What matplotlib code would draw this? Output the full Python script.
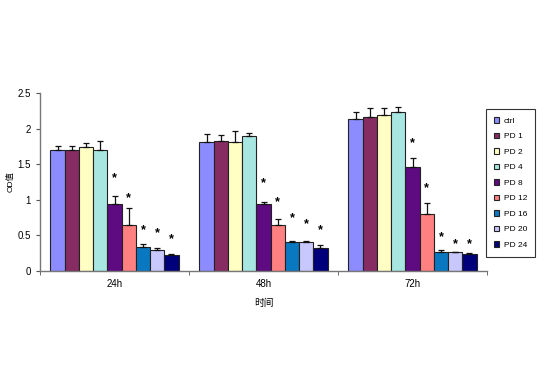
import matplotlib
matplotlib.use("Agg")
import matplotlib.pyplot as plt
import numpy as np
from matplotlib.ticker import FuncFormatter

plt.rcParams['font.family'] = ['Liberation Sans', 'Noto Sans CJK SC', 'DejaVu Sans']

categories = ["24h", "48h", "72h"]
series = ["ctrl", "PD 1", "PD 2", "PD 4", "PD 8", "PD 12", "PD 16", "PD 20", "PD 24"]
colors = ["#8C8CFF", "#862C62", "#FFFFC4", "#A8E6E2", "#5E0A80",
          "#FF8080", "#0A78C0", "#C8C8FF", "#00007A"]

values = {
    "24h": [1.70, 1.70, 1.74, 1.70, 0.94, 0.65, 0.34, 0.30, 0.22],
    "48h": [1.81, 1.83, 1.81, 1.90, 0.94, 0.64, 0.41, 0.41, 0.33],
    "72h": [2.14, 2.16, 2.19, 2.24, 1.46, 0.80, 0.27, 0.26, 0.24],
}
errors = {
    "24h": [0.06, 0.06, 0.06, 0.12, 0.12, 0.24, 0.04, 0.02, 0.02],
    "48h": [0.11, 0.08, 0.15, 0.04, 0.03, 0.09, 0.01, 0.01, 0.03],
    "72h": [0.09, 0.13, 0.10, 0.06, 0.13, 0.16, 0.02, 0.01, 0.01],
}
star_series = ["PD 8", "PD 12", "PD 16", "PD 20", "PD 24"]
star_heights = {
    "24h": [1.31, 1.02, 0.58, 0.53, 0.45],
    "48h": [1.23, 0.96, 0.74, 0.66, 0.58],
    "72h": [1.79, 1.17, 0.47, 0.38, 0.38],
}
yticks = [0, 0.5, 1, 1.5, 2, 2.5]

fig = plt.figure(figsize=(5.5, 3.66), dpi=100)
ax = fig.add_axes([40/550, 1-271/366, 447/550, (271-93)/366])

n = len(series)
w = 0.0955
x = np.arange(len(categories))
for i, s in enumerate(series):
    vals = [values[c][i] for c in categories]
    errs = [errors[c][i] for c in categories]
    pos = x + (i - (n-1)/2) * w
    ax.bar(pos, vals, width=w, color=colors[i], edgecolor="#222222", linewidth=0.8,
           label=s, zorder=2)
    ax.errorbar(pos, vals, yerr=[np.zeros(len(errs)), errs], fmt='none',
                ecolor='#111111', elinewidth=0.9, capsize=2.2, capthick=0.9, zorder=3)

for ci, c in enumerate(categories):
    for k, s in enumerate(star_series):
        i = series.index(s)
        pos = ci + (i - (n-1)/2) * w
        ax.text(pos, star_heights[c][k], "*", ha='center', va='center',
                fontsize=9, fontweight='bold', color='black', zorder=4)

ax.set_xlim(-0.5, len(categories) - 0.5)
ax.set_ylim(0, 2.5)
ax.set_yticks(yticks)
ax.yaxis.set_major_formatter(FuncFormatter(lambda v, p: f"{v:g}"))
ax.set_xticks(x)
ax.set_xticklabels(categories)
ax.set_xticks(np.arange(len(categories)+1) - 0.5, minor=True)
ax.tick_params(axis='x', which='major', length=0, labelsize=7, pad=6)
ax.tick_params(axis='x', which='minor', length=3, direction='out', color='#555555')
ax.tick_params(axis='y', length=3, direction='out', labelsize=7, color='#555555')
for sp in ['top', 'right']:
    ax.spines[sp].set_visible(False)
for sp in ['left', 'bottom']:
    ax.spines[sp].set_color('#777777')
    ax.spines[sp].set_linewidth(1.0)

ax.set_ylabel("OD值", fontsize=6, labelpad=2)
ax.set_xlabel("时间", fontsize=7, labelpad=6)

leg = fig.legend(loc='upper left', bbox_to_anchor=(486/550, 1-109/366),
                 fontsize=6, frameon=True, fancybox=False, edgecolor='black',
                 handlelength=0.6, handleheight=0.6, handletextpad=0.5,
                 labelspacing=0.95, borderpad=1.0, borderaxespad=0)
leg.get_frame().set_linewidth(0.8)

fig.savefig("out.png", dpi=100)
